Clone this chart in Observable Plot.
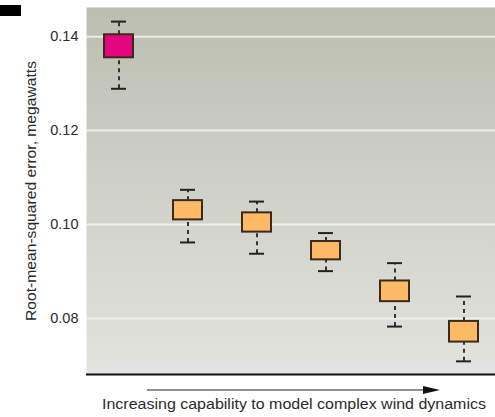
<!DOCTYPE html>
<html>
<head>
<meta charset="utf-8">
<script src="https://cdn.jsdelivr.net/npm/d3@7"></script>
<script src="https://cdn.jsdelivr.net/npm/@observablehq/plot@0.6"></script>
<style>
  html, body { margin: 0; padding: 0; background: #ffffff; }
  body { width: 495px; height: 417px; overflow: hidden; position: relative; font-family: "Liberation Sans", Arial, sans-serif; }
  #tag { position: absolute; left: 0; top: 5px; width: 21px; height: 11px; background: #000; }
  #below { display: block; }
</style>
</head>
<body>
<div id="tag"></div>
<div id="chart"></div>
<script>
// ---- data ----
const models      = ["M1", "M2", "M3", "M4", "M5", "M6"];
const whiskerLow  = [0.1289, 0.0962, 0.0938, 0.0901, 0.0783, 0.0709];
const boxLow      = [0.1355, 0.1010, 0.0984, 0.0925, 0.0836, 0.0750];
const boxHigh     = [0.1404, 0.1051, 0.1025, 0.0964, 0.0880, 0.0794];
const whiskerHigh = [0.1432, 0.1074, 0.1049, 0.0982, 0.0918, 0.0847];
const boxColors   = ["#e2077f", "#fdb965", "#fdb965", "#fdb965", "#fdb965", "#fdb965"];
const yTicks      = [0.08, 0.10, 0.12, 0.14];
const yDomain     = [0.0681, 0.1462];
const yLabel      = "Root-mean-squared error, megawatts";
const xLabel      = "Increasing capability to model complex wind dynamics";

const data = models.map((m, i) => ({
  model: m, lo: whiskerLow[i], q1: boxLow[i], q3: boxHigh[i], hi: whiskerHigh[i], color: boxColors[i]
}));

const gradient = () => {
  const g = d3.create("svg:defs");
  const lg = g.append("linearGradient").attr("id", "bgGrad")
    .attr("x1", 0).attr("y1", 0).attr("x2", 0).attr("y2", 1);
  lg.append("stop").attr("offset", "0%").attr("stop-color", "#bcbeb1");
  lg.append("stop").attr("offset", "100%").attr("stop-color", "#e3e3df");
  return g.node();
};

const ink = "#2b2b2b";

const chart = Plot.plot({
  width: 495,
  height: 376,
  marginLeft: 86,
  marginRight: 0,
  marginTop: 7,
  marginBottom: 2,
  style: { fontFamily: "'Liberation Sans', Arial, sans-serif", fontSize: "14px", color: ink, background: "transparent" },
  x: { type: "band", domain: models, paddingInner: 0.58, paddingOuter: 0.237, axis: null },
  y: { domain: yDomain, axis: null },
  marks: [
    gradient,
    Plot.frame({ fill: "url(#bgGrad)", stroke: "none" }),
    Plot.gridY(yTicks, { stroke: "#f2f2ec", strokeOpacity: 0.9, strokeWidth: 2 }),
    Plot.axisY(yTicks, { tickSize: 0, tickPadding: 8, tickFormat: d3.format(".2f"), label: null, fill: ink, fontSize: 14.5 }),
    Plot.text([yLabel], { frameAnchor: "left", textAnchor: "middle", rotate: -90, dx: -55, fontSize: 14, fill: ink, className: "ylab" }),
    Plot.ruleX(data, { x: "model", y1: "lo", y2: "q1", stroke: "#333", strokeWidth: 2, strokeDasharray: "4,4" }),
    Plot.ruleX(data, { x: "model", y1: "q3", y2: "hi", stroke: "#333", strokeWidth: 2, strokeDasharray: "4,4" }),
    Plot.tickY(data, { x: "model", y: "lo", stroke: "#222", strokeWidth: 2, insetLeft: 7, insetRight: 7 }),
    Plot.tickY(data, { x: "model", y: "hi", stroke: "#222", strokeWidth: 2, insetLeft: 7, insetRight: 7 }),
    Plot.barY(data, { x: "model", y1: "q1", y2: "q3", fill: "color", stroke: "#3a2a1c", strokeWidth: 2 }),
    Plot.ruleY([yDomain[0]], { stroke: "#111", strokeWidth: 2 })
  ]
});
// reference text is slightly stretched: widen the y label to its measured length
d3.select(chart).selectAll("g.ylab text")
  .attr("textLength", 260).attr("lengthAdjust", "spacingAndGlyphs");
document.getElementById("chart").appendChild(chart);

// caption below: arrow + label
const below = d3.create("svg").attr("id", "below").attr("width", 495).attr("height", 41);
below.append("line").attr("x1", 147).attr("x2", 426).attr("y1", 14).attr("y2", 14)
  .attr("stroke", "#222").attr("stroke-width", 1.2);
below.append("path").attr("d", "M423,10 L440,14 L423,18 Z").attr("fill", "#111");
below.append("text").attr("x", 102).attr("y", 33).attr("text-anchor", "start")
  .attr("font-family", "'Liberation Sans', Arial, sans-serif").attr("font-size", 14)
  .attr("textLength", 384).attr("lengthAdjust", "spacingAndGlyphs")
  .attr("fill", ink).text(xLabel);
document.getElementById("chart").appendChild(below.node());
</script>
</body>
</html>
